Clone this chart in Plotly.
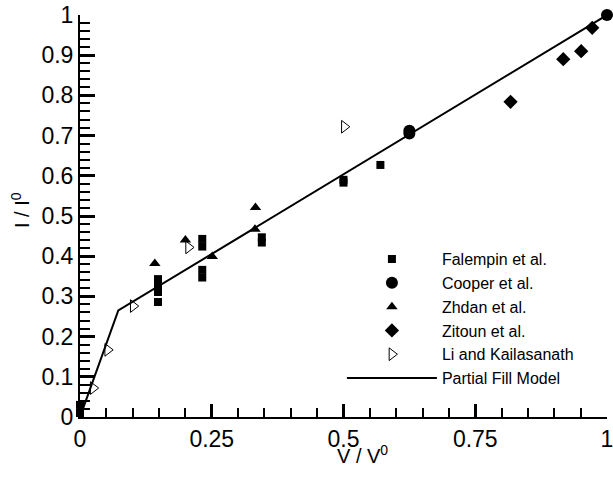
import plotly.graph_objects as go

# Data
falempin_x = [0.0, 0.0, 0.148, 0.148, 0.148, 0.148, 0.232, 0.232, 0.232, 0.232, 0.345, 0.345, 0.5, 0.5, 0.57]
falempin_y = [0.01, 0.03, 0.343, 0.326, 0.311, 0.286, 0.443, 0.424, 0.366, 0.347, 0.447, 0.434, 0.583, 0.59, 0.627]

cooper_x = [0.625, 0.625, 1.0]
cooper_y = [0.705, 0.712, 1.0]

zhdan_x = [0.142, 0.2, 0.251, 0.333, 0.332]
zhdan_y = [0.382, 0.44, 0.399, 0.521, 0.467]

zitoun_x = [0.817, 0.917, 0.951, 0.972]
zitoun_y = [0.784, 0.89, 0.91, 0.968]

li_x = [0.025, 0.0525, 0.101, 0.206, 0.5016]
li_y = [0.072, 0.167, 0.276, 0.422, 0.722]

model_x = [0.0, 0.0727, 1.0]
model_y = [0.0, 0.265, 1.0]

x_tickvals = [0, 0.25, 0.5, 0.75, 1]
x_ticktext = ["0", "0.25", "0.5", "0.75", "1"]
y_tickvals = [0, 0.1, 0.2, 0.3, 0.4, 0.5, 0.6, 0.7, 0.8, 0.9, 1]
y_ticktext = ["0", "0.1", "0.2", "0.3", "0.4", "0.5", "0.6", "0.7", "0.8", "0.9", "1"]

FONT = "Arial, Liberation Sans, sans-serif"

W, H = 613, 477
ML, MR, MT, MB = 80, 6, 15, 60
PW, PH = W - ML - MR, H - MT - MB

fig = go.Figure()
fig.add_trace(go.Scatter(x=falempin_x, y=falempin_y, mode="markers", name="Falempin et al.",
                         marker=dict(symbol="square", size=8, color="black")))
fig.add_trace(go.Scatter(x=cooper_x, y=cooper_y, mode="markers", name="Cooper et al.",
                         marker=dict(symbol="circle", size=12, color="black")))
fig.add_trace(go.Scatter(x=zhdan_x, y=zhdan_y, mode="markers", name="Zhdan et al.",
                         marker=dict(symbol="triangle-up", size=10, color="black")))
fig.add_trace(go.Scatter(x=zitoun_x, y=zitoun_y, mode="markers", name="Zitoun et al.",
                         marker=dict(symbol="diamond", size=11, color="black")))
fig.add_trace(go.Scatter(x=li_x, y=li_y, mode="markers", name="Li and Kailasanath",
                         marker=dict(symbol="triangle-right-open", size=11, color="black",
                                     line=dict(width=1, color="black"))))
fig.add_trace(go.Scatter(x=model_x, y=model_y, mode="lines", name="Partial Fill Model",
                         line=dict(color="black", width=2)))

fig.update_traces(cliponaxis=False)

fig.update_layout(
    width=W, height=H,
    margin=dict(l=ML, r=MR, t=MT, b=MB, autoexpand=False),
    paper_bgcolor="white", plot_bgcolor="white",
    font=dict(family=FONT, color="black"),
    showlegend=True,
    legend=dict(x=0.497, y=0.435, xanchor="left", yanchor="top",
                font=dict(size=16, family=FONT), bgcolor="rgba(0,0,0,0)",
                itemwidth=90, tracegroupgap=0),
    annotations=[
        dict(text="V / V<sup>0</sup>", xref="paper", yref="paper",
             x=(362 - ML) / PW, y=-(454 - MT - PH) / PH, xanchor="center", yanchor="middle",
             showarrow=False, font=dict(size=20, family=FONT)),
        dict(text="I / I<sup>0</sup>", xref="paper", yref="paper", textangle=-90,
             x=-(ML - 21) / PW, y=(H - MB - 210) / PH, xanchor="center", yanchor="middle",
             showarrow=False, font=dict(size=20, family=FONT)),
    ],
)
fig.update_xaxes(
    range=[0, 1], tickvals=x_tickvals, ticktext=x_ticktext, automargin=False,
    ticklabeloverflow="allow",
    showgrid=False, zeroline=False, showline=True, linewidth=2, linecolor="black",
    ticks="inside", ticklen=13, tickwidth=3, tickcolor="black",
    tickfont=dict(size=23, family=FONT),
    minor=dict(dtick=0.05, ticks="inside", ticklen=9, tickwidth=1.5, tickcolor="black", showgrid=False),
)
fig.update_yaxes(
    range=[0, 1], tickvals=y_tickvals, ticktext=y_ticktext, automargin=False,
    ticklabeloverflow="allow",
    showgrid=False, zeroline=False, showline=True, linewidth=2, linecolor="black",
    ticks="inside", ticklen=15, tickwidth=3, tickcolor="black",
    tickfont=dict(size=23, family=FONT),
    minor=dict(dtick=0.02, ticks="inside", ticklen=10, tickwidth=1.5, tickcolor="black", showgrid=False),
)

fig.write_html("out.html", config={"displayModeBar": False},
               post_script="document.body.style.margin='0';")
